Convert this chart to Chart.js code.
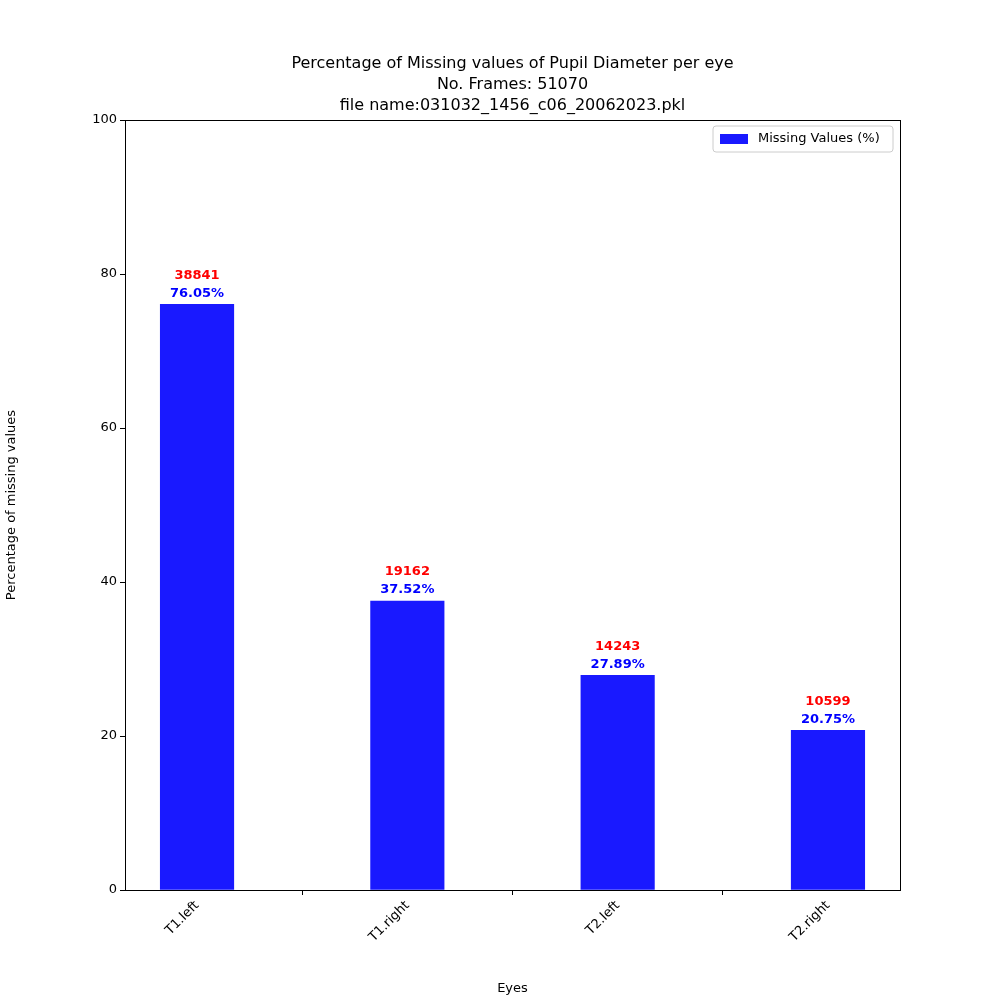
<!DOCTYPE html>
<html lang="en">
<head>
    <meta charset="UTF-8">
    <title>Missing values of Pupil Diameter</title>
    <style>
        body { margin: 0; padding: 0; background: #ffffff; }
        #wrap { width: 1000px; height: 1000px; }
    </style>
</head>
<body>
    <div id="wrap"><canvas id="chart" width="1000" height="1000"></canvas></div>

    <script src="https://cdn.jsdelivr.net/npm/chart.js"></script>
    <script>
        const eyes = ['T1.left', 'T1.right', 'T2.left', 'T2.right'];
        const missingPct = [76.05, 37.52, 27.89, 20.75];
        const missingCount = [38841, 19162, 14243, 10599];
        const titleLines = [
            'Percentage of Missing values of Pupil Diameter per eye',
            'No. Frames: 51070',
            'file name:031032_1456_c06_20062023.pkl'
        ];
        const barBlue = 'rgba(0, 0, 255, 0.9)';
        const font = 'DejaVu Sans';

        // draws title, frame, value labels and legend
        const extras = {
            id: 'extras',
            afterDraw(chart) {
                const ctx = chart.ctx;
                const a = chart.chartArea;
                ctx.save();
                ctx.strokeStyle = '#000';
                ctx.lineWidth = 1;
                ctx.strokeRect(a.left + 0.5, a.top + 0.5, a.right - a.left, a.bottom - a.top);

                ctx.fillStyle = '#000';
                ctx.textAlign = 'center';
                ctx.textBaseline = 'middle';
                ctx.font = '16px "' + font + '"';
                titleLines.forEach((t, i) => ctx.fillText(t, (a.left + a.right) / 2, 64 + i * 21));

                const xs = chart.scales.x, ys = chart.scales.y;
                ctx.font = 'bold 13px "' + font + '"';
                missingPct.forEach((v, i) => {
                    const x = xs.getPixelForValue(i);
                    const y = ys.getPixelForValue(v);
                    ctx.fillStyle = '#0000ff';
                    ctx.fillText(v.toFixed(2) + '%', x, y - 11);
                    ctx.fillStyle = '#ff0000';
                    ctx.fillText(String(missingCount[i]), x, y - 29);
                });

                // legend box
                const lx = a.right - 187, ly = a.top + 6, lw = 180, lh = 26;
                ctx.fillStyle = 'rgba(255,255,255,0.8)';
                ctx.strokeStyle = '#ccc';
                ctx.beginPath();
                ctx.roundRect(lx, ly, lw, lh, 3);
                ctx.fill();
                ctx.stroke();
                ctx.fillStyle = barBlue;
                ctx.fillRect(lx + 7, ly + 8, 28, 10);
                ctx.fillStyle = '#000';
                ctx.textAlign = 'left';
                ctx.font = '13px "' + font + '"';
                ctx.fillText('Missing Values (%)', lx + 45, ly + lh / 2);
                ctx.restore();
            }
        };

        new Chart(document.getElementById('chart'), {
            type: 'bar',
            data: {
                datasets: [{
                    label: 'Missing Values (%)',
                    data: missingPct.map((v, i) => ({ x: i, y: v })),
                    backgroundColor: barBlue,
                    barThickness: 73.5
                }]
            },
            options: {
                responsive: false,
                animation: false,
                layout: { padding: { top: 120, right: 100, left: 0, bottom: 0 } },
                plugins: { legend: { display: false }, tooltip: { enabled: false } },
                scales: {
                    x: {
                        type: 'linear',
                        min: -0.3425,
                        max: 3.3425,
                        offset: false,
                        afterBuildTicks: s => { s.ticks = eyes.map((_, i) => ({ value: i })); },
                        afterFit: s => { s.height = 110; },
                        ticks: {
                            callback: v => eyes[v],
                            maxRotation: 45, minRotation: 45,
                            color: '#000', font: { family: font, size: 13 }
                        },
                        grid: { drawOnChartArea: false, tickLength: 5, color: '#000' },
                        border: { color: '#000' },
                        title: { display: true, text: 'Eyes', color: '#000', font: { family: font, size: 13 } }
                    },
                    y: {
                        min: 0, max: 100,
                        afterFit: s => { s.width = 125; },
                        ticks: { stepSize: 20, color: '#000', font: { family: font, size: 13 } },
                        grid: { drawOnChartArea: false, tickLength: 5, color: '#000' },
                        border: { color: '#000' },
                        title: { display: true, text: 'Percentage of missing values', color: '#000', font: { family: font, size: 13 } }
                    }
                }
            },
            plugins: [extras]
        });
    </script>
</body>
</html>
